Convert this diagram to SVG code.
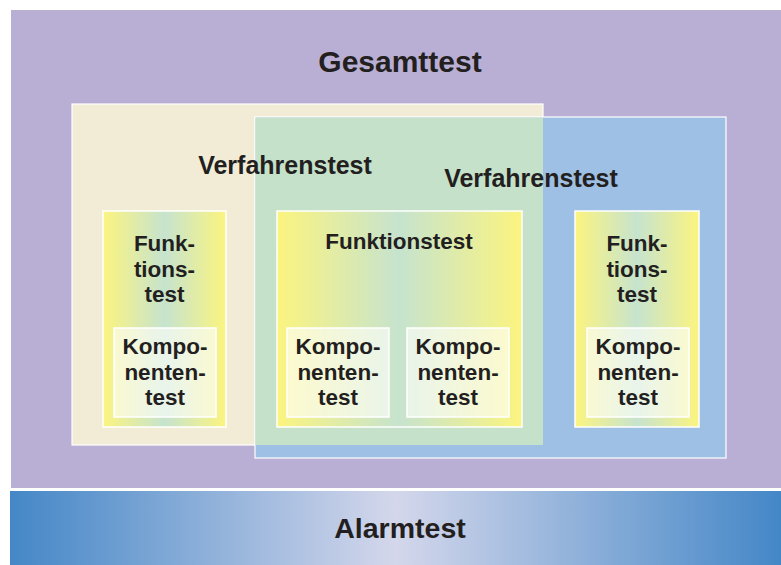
<svg xmlns="http://www.w3.org/2000/svg" width="781" height="565" viewBox="0 0 781 565">
  <defs>
    <linearGradient id="gFunk" x1="0" y1="0" x2="1" y2="0">
      <stop offset="0" stop-color="#FBF47F"/>
      <stop offset="0.5" stop-color="#C6E3CE"/>
      <stop offset="1" stop-color="#FBF47F"/>
    </linearGradient>
    <linearGradient id="gAlarm" x1="0" y1="0" x2="1" y2="0">
      <stop offset="0" stop-color="#4487C7"/>
      <stop offset="0.5" stop-color="#D4D7EB"/>
      <stop offset="1" stop-color="#4487C7"/>
    </linearGradient>
    <style>
      text { font-family: "Liberation Sans", Arial, Helvetica, sans-serif; font-weight: bold; fill: #231F20; text-anchor: middle; }
      .big { font-size: 30px; }
      .mid { font-size: 25px; }
      .sm { font-size: 22.5px; }
      .funk { fill: url(#gFunk); stroke: #FFFFFF; stroke-width: 1.5; }
      .komp { fill: #FFFFFF; fill-opacity: 0.6; stroke: #FFFFFF; stroke-width: 1.5; }
    </style>
  </defs>
  <rect x="0" y="0" width="781" height="565" fill="#FFFFFF"/>

  <g id="gesamttest">
    <rect x="11" y="10" width="770" height="478" fill="#B9AFD4"/>
    <text class="big" x="400" y="72">Gesamttest</text>
  </g>

  <g id="verfahrenstest1">
    <rect x="72" y="104" width="471" height="341" fill="#F2ECD7" stroke="#FFFFFF" stroke-width="1.2"/>
  </g>
  <g id="verfahrenstest2">
    <rect x="255" y="117" width="471" height="341" fill="#9DC0E4" stroke="#FFFFFF" stroke-width="1.2"/>
  </g>
  <g id="overlap">
    <rect x="255.6" y="117.6" width="287.4" height="327.4" fill="#C5E1CA"/>
  </g>
  <g id="verfahrenstest-labels">
    <text class="mid" x="285" y="174">Verfahrenstest</text>
    <text class="mid" x="531" y="187">Verfahrenstest</text>
  </g>

  <g id="funktionstest1">
    <rect class="funk" x="103" y="211" width="123" height="216"/>
    <text class="sm" x="164.5" y="251">Funk-</text>
    <text class="sm" x="164.5" y="277">tions-</text>
    <text class="sm" x="164.5" y="302">test</text>
  </g>
  <g id="komponententest1">
    <rect class="komp" x="114" y="328" width="102" height="89"/>
    <text class="sm" x="165" y="354">Kompo-</text>
    <text class="sm" x="165" y="380">nenten-</text>
    <text class="sm" x="165" y="405">test</text>
  </g>

  <g id="funktionstest2">
    <rect class="funk" x="277" y="211" width="245" height="216"/>
    <text class="sm" x="399" y="249">Funktionstest</text>
  </g>
  <g id="komponententest2">
    <rect class="komp" x="287" y="328" width="102" height="89"/>
    <text class="sm" x="338" y="354">Kompo-</text>
    <text class="sm" x="338" y="380">nenten-</text>
    <text class="sm" x="338" y="405">test</text>
  </g>
  <g id="komponententest3">
    <rect class="komp" x="407" y="328" width="102" height="89"/>
    <text class="sm" x="458" y="354">Kompo-</text>
    <text class="sm" x="458" y="380">nenten-</text>
    <text class="sm" x="458" y="405">test</text>
  </g>

  <g id="funktionstest3">
    <rect class="funk" x="575" y="211" width="124" height="216"/>
    <text class="sm" x="637" y="251">Funk-</text>
    <text class="sm" x="637" y="277">tions-</text>
    <text class="sm" x="637" y="302">test</text>
  </g>
  <g id="komponententest4">
    <rect class="komp" x="587" y="328" width="102" height="89"/>
    <text class="sm" x="638" y="354">Kompo-</text>
    <text class="sm" x="638" y="380">nenten-</text>
    <text class="sm" x="638" y="405">test</text>
  </g>

  <g id="alarmtest">
    <rect x="10" y="491" width="771" height="74" fill="url(#gAlarm)"/>
    <text class="big" x="400" y="538" style="font-size:28.5px">Alarmtest</text>
  </g>
</svg>
